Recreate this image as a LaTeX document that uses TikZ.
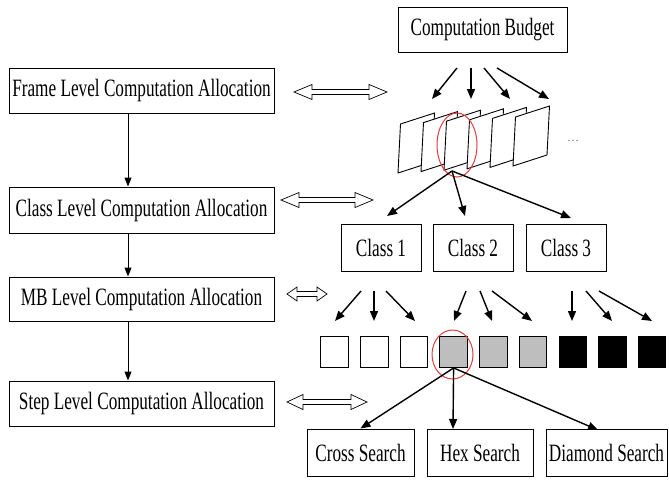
\documentclass[tikz,border=0pt]{standalone}
\usepackage{fontspec}
\setmainfont{Liberation Serif}
\usepackage{graphicx}
\usetikzlibrary{arrows.meta}
\definecolor{myred}{RGB}{225,60,60}
\definecolor{sqgray}{RGB}{190,190,190}
\newcommand{\vs}[1]{\scalebox{1}[1.45]{#1}}
\newcommand{\dblarr}[5]{%
  \draw[fill=white, line width=0.7pt] (#1,#3) -- (#1+#4,#3-#5) -- (#1+#4,#3-2.5) -- (#2-#4,#3-2.5) -- (#2-#4,#3-#5) -- (#2,#3) -- (#2-#4,#3+#5) -- (#2-#4,#3+2.5) -- (#1+#4,#3+2.5) -- (#1+#4,#3+#5) -- cycle;}
\begin{document}
\begin{tikzpicture}[x=1pt,y=-1pt,
  box/.style={draw, line width=1pt, inner sep=0pt, font=\fontsize{17.2}{20}\selectfont},
  lbox/.style={box, minimum width=265pt},
  cbox/.style={box, minimum width=80pt, minimum height=47pt},
  sbox/.style={box, minimum height=47pt},
  sq/.style={draw, line width=0.9pt, minimum width=27.5pt, minimum height=31pt, inner sep=0pt},
  varr/.style={line width=1pt, -{Triangle[length=9pt,width=7pt]}},
  arr/.style={line width=1.4pt, -{Triangle[length=10pt,width=8pt]}},
  frm/.style={draw, fill=white, line width=0.9pt, line join=miter},
  ring/.style={draw=myred, line width=1pt}]
\useasboundingbox (0,0) rectangle (669,482);

% left column
\node[lbox, minimum height=45pt] (frame) at (141.5,90.5) {\vs{Frame Level Computation Allocation}};
\node[lbox, minimum height=46pt] (class) at (141.5,210) {\vs{Class Level Computation Allocation}};
\node[lbox, minimum height=44pt] (mb) at (141.5,299) {\vs{MB Level Computation Allocation}};
\node[lbox, minimum height=45pt] (step) at (141.5,403.5) {\vs{Step Level Computation Allocation}};
\coordinate (ax) at (128,0);
\draw[varr] (frame.south -| ax) -- (class.north -| ax);
\draw[varr] (class.south -| ax) -- (mb.north -| ax);
\draw[varr] (mb.south -| ax) -- (step.north -| ax);

% double arrows
\dblarr{294}{387}{92}{18}{7.5}
\dblarr{281}{373}{200}{18}{7.5}
\dblarr{287}{327}{294}{10}{7}
\dblarr{287}{367}{402}{16}{7.5}

% computation budget
\node[box, minimum width=169pt, minimum height=45pt] (budget) at (482.5,29.5) {\vs{Computation Budget}};
\foreach \a/\b in {457/432, 471/471, 484/510, 497/549}
  \draw[arr] (\a,68) -- (\b,99);

% frames
\foreach \i in {0,...,5}
  \draw[frm] ({398+23*\i},{173-1.4*\i}) -- ++(2.5,-49) -- ++(34,-11) -- ++(-2.5,49) -- cycle;
\node[font=\fontsize{12}{12}\selectfont, text=black!60] (dots) at (573,141) {\dots};
\draw[ring] (457,145) ellipse [x radius=20, y radius=32];

% classes
\node[cbox] (c1) at (381,247.5) {\vs{Class 1}};
\node[cbox] (c2) at (473,247.5) {\vs{Class 2}};
\node[cbox] (c3) at (566,247.5) {\vs{Class 3}};
\coordinate (fsrc) at (452,171);
\draw[arr] (fsrc) -- (387,216);
\draw[arr] (fsrc) -- (465,216);
\draw[arr] (fsrc) -- (571,218);

% class -> squares arrows
\foreach \a/\b in {361/335, 374/374, 386/415, 466/454, 480/492, 492/532, 572/572, 586/612, 599/652}
  \draw[arr] (\a,291) -- (\b,321);

% squares
\foreach \i/\c in {1/white, 2/white, 3/white, 4/sqgray, 5/sqgray, 6/sqgray, 7/black, 8/black, 9/black}
  \node[sq, fill=\c] (sq\i) at ({334.5+39.7*(\i-1)},352) {};
\draw[ring] (452.5,354.5) ellipse [x radius=20.5, y radius=24.5];

% search boxes
\node[sbox, minimum width=107pt] (cross) at (360.5,452.5) {\vs{Cross Search}};
\node[sbox, minimum width=106pt] (hex) at (480,452.5) {\vs{Hex Search}};
\node[sbox, minimum width=121pt] (diam) at (606.5,452.5) {\vs{Diamond Search}};
\coordinate (hexin) at (453,429);
\coordinate (diamin) at (598,430);
\draw[arr] (sq4.south) -- (cross.north);
\draw[arr] (sq4.south) -- (hexin);
\draw[arr] (sq4.south) -- (diamin);
\end{tikzpicture}
\end{document}
